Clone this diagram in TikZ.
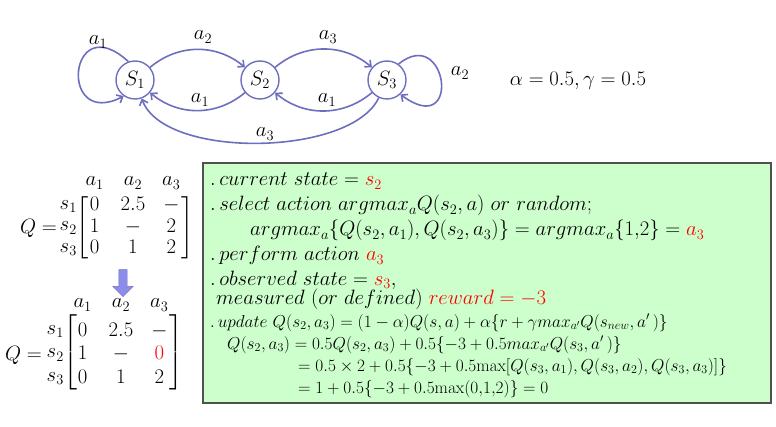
\documentclass[tikz,border=0pt]{standalone}
\usepackage{amsmath}
\usepackage{tikz}
\usetikzlibrary{positioning}
\usetikzlibrary{matrix}
\usetikzlibrary{shapes.arrows}
\usetikzlibrary{arrows.meta}

\definecolor{statec}{RGB}{110,110,190}
\definecolor{boxfill}{RGB}{204,255,204}
\definecolor{boxline}{RGB}{80,80,80}
\definecolor{arrowfill}{RGB}{140,140,235}

\begin{document}
\begin{tikzpicture}[
        x=1pt, y=1pt,
        every node/.style={font=\fontsize{20}{24}\selectfont},
        every left delimiter/.style={xshift=8pt},
        every right delimiter/.style={xshift=-4pt},
        state/.style={circle, draw=statec, line width=1.4pt, minimum size=38pt, inner sep=0pt},
        trans/.style={draw=statec, line width=1.6pt, -{Straight Barb[length=5pt,width=9pt]}},
        qmat/.style={matrix of math nodes, left delimiter={[}, right delimiter={]},
            nodes={text height=12pt, text depth=3pt, inner sep=0pt, minimum width=18pt},
            column sep=17pt, row sep=6.5pt},
        boxline/.style={anchor=base west, inner sep=0pt, font=\fontsize{20.5}{24}\selectfont},
        smalltext/.style={boxline, font=\fontsize{17.5}{21}\selectfont},
        downarrow/.style={single arrow, shape border rotate=270, draw=statec, fill=arrowfill,
            minimum height=27pt, minimum width=20pt, inner sep=4pt, single arrow head extend=6pt}
    ]
    \useasboundingbox (0,0) rectangle (776,426);

    % States
    \node[state] (s1) at (135,346) {$S_1$};
    \node[state] (s2) at (260,346) {$S_2$};
    \node[state] (s3) at (387,346) {$S_3$};

    % Transitions
    \draw[trans] (s1) to[bend left=40] (s2);
    \draw[trans] (s2) to[bend left=40] (s3);
    \draw[trans] (s2) to[bend left=40] (s1);
    \draw[trans] (s3) to[bend left=40] (s2);
    \draw[trans] (s3) to[out=245, in=-70, looseness=0.7] (s1);
    \draw[trans] (s1.110) .. controls +(-60,55) and +(-66,-34) .. (s1.235);
    \draw[trans] (s3.54) .. controls +(49,40) and +(62,-46) .. (s3.-47);

    % Action labels
    \node (lab11) at (98,384) {$a_1$};
    \node (lab12) at (203,389) {$a_2$};
    \node (lab23) at (328,389) {$a_3$};
    \node (lab33) at (460,353) {$a_2$};
    \node (lab21) at (200,326) {$a_1$};
    \node (lab32) at (327,326) {$a_1$};
    \node (lab31) at (265,292) {$a_3$};

    % Parameters
    \node (params) at (578,345) {$\alpha = 0.5, \gamma = 0.5$};

    % Q table before
    \matrix (qold) [qmat] at (133,198) {
        0 & 2.5 & - \\
        1 & - & 2 \\
        0 & 1 & 2 \\
    };
    \foreach \c in {1,2,3}
        \node (qoldhead\c) at (qold-1-\c |- 0,243) {$a_\c$};
    \foreach \r in {1,2,3}
        \node[anchor=east, inner sep=0pt] (qoldrow\r) at (77,0 |- qold-\r-1) {$s_\r$};
    \node[anchor=east, inner sep=0pt] (qoldeq) at (57,0 |- qold-2-1) {$Q =$};

    % Update step
    \node[downarrow] (step) at (123,145) {};

    % Q table after
    \matrix (qnew) [qmat, row sep=8.5pt] at (121,71) {
        0 & 2.5 & - \\
        1 & - & |[text=red]| 0 \\
        0 & 1 & 2 \\
    };
    \foreach \c in {1,2,3}
        \node (qnewhead\c) at (qnew-1-\c |- 0,121) {$a_\c$};
    \foreach \r in {1,2,3}
        \node[anchor=east, inner sep=0pt] (qnewrow\r) at (64,0 |- qnew-\r-1) {$s_\r$};
    \node[anchor=east, inner sep=0pt] (qneweq) at (42,0 |- qnew-2-1) {$Q =$};

    % Q-learning step
    \draw[draw=boxline, fill=boxfill, line width=1.2pt] (203,263) rectangle (771,23);
    \node[boxline] (line1) at (210,240) {$.\,current\ state = \textcolor{red}{s_2}$};
    \node[boxline] (line2) at (210,215) {$.\,select\ action\ argmax_a Q(s_2,a)\ or\ random;$};
    \node[boxline] (line3) at (250,190) {$argmax_a\{Q(s_2,a_1),Q(s_2,a_3)\} = argmax_a\{1{,}2\} = \textcolor{red}{a_3}$};
    \node[boxline] (line4) at (210,165) {$.\,perform\ action\ \textcolor{red}{a_3}$};
    \node[boxline] (line5) at (210,141) {$.\,observed\ state = \textcolor{red}{s_3},$};
    \node[boxline] (line6) at (216,122) {$measured\ (or\ defined)\ \textcolor{red}{reward = -3}$};
    \node[smalltext] (line7) at (210,99) {$.\,update\ Q(s_2,a_3) = (1-\alpha)Q(s,a) + \alpha\{r + \gamma max_{a'}Q(s_{new},a'\,)\}$};
    \node[smalltext] (line8) at (227,77) {$Q(s_2,a_3) = 0.5Q(s_2,a_3) + 0.5\{-3 + 0.5max_{a'}Q(s_3,a'\,)\}$};
    \node[smalltext] (line9) at (298,55) {$= 0.5 \times 2 + 0.5\{-3 + 0.5\mathrm{max}[Q(s_3,a_1),Q(s_3,a_2),Q(s_3,a_3)]\}$};
    \node[smalltext] (line10) at (298,33) {$= 1 + 0.5\{-3 + 0.5\mathrm{max}(0{,}1{,}2)\} = 0$};

\end{tikzpicture}
\end{document}
